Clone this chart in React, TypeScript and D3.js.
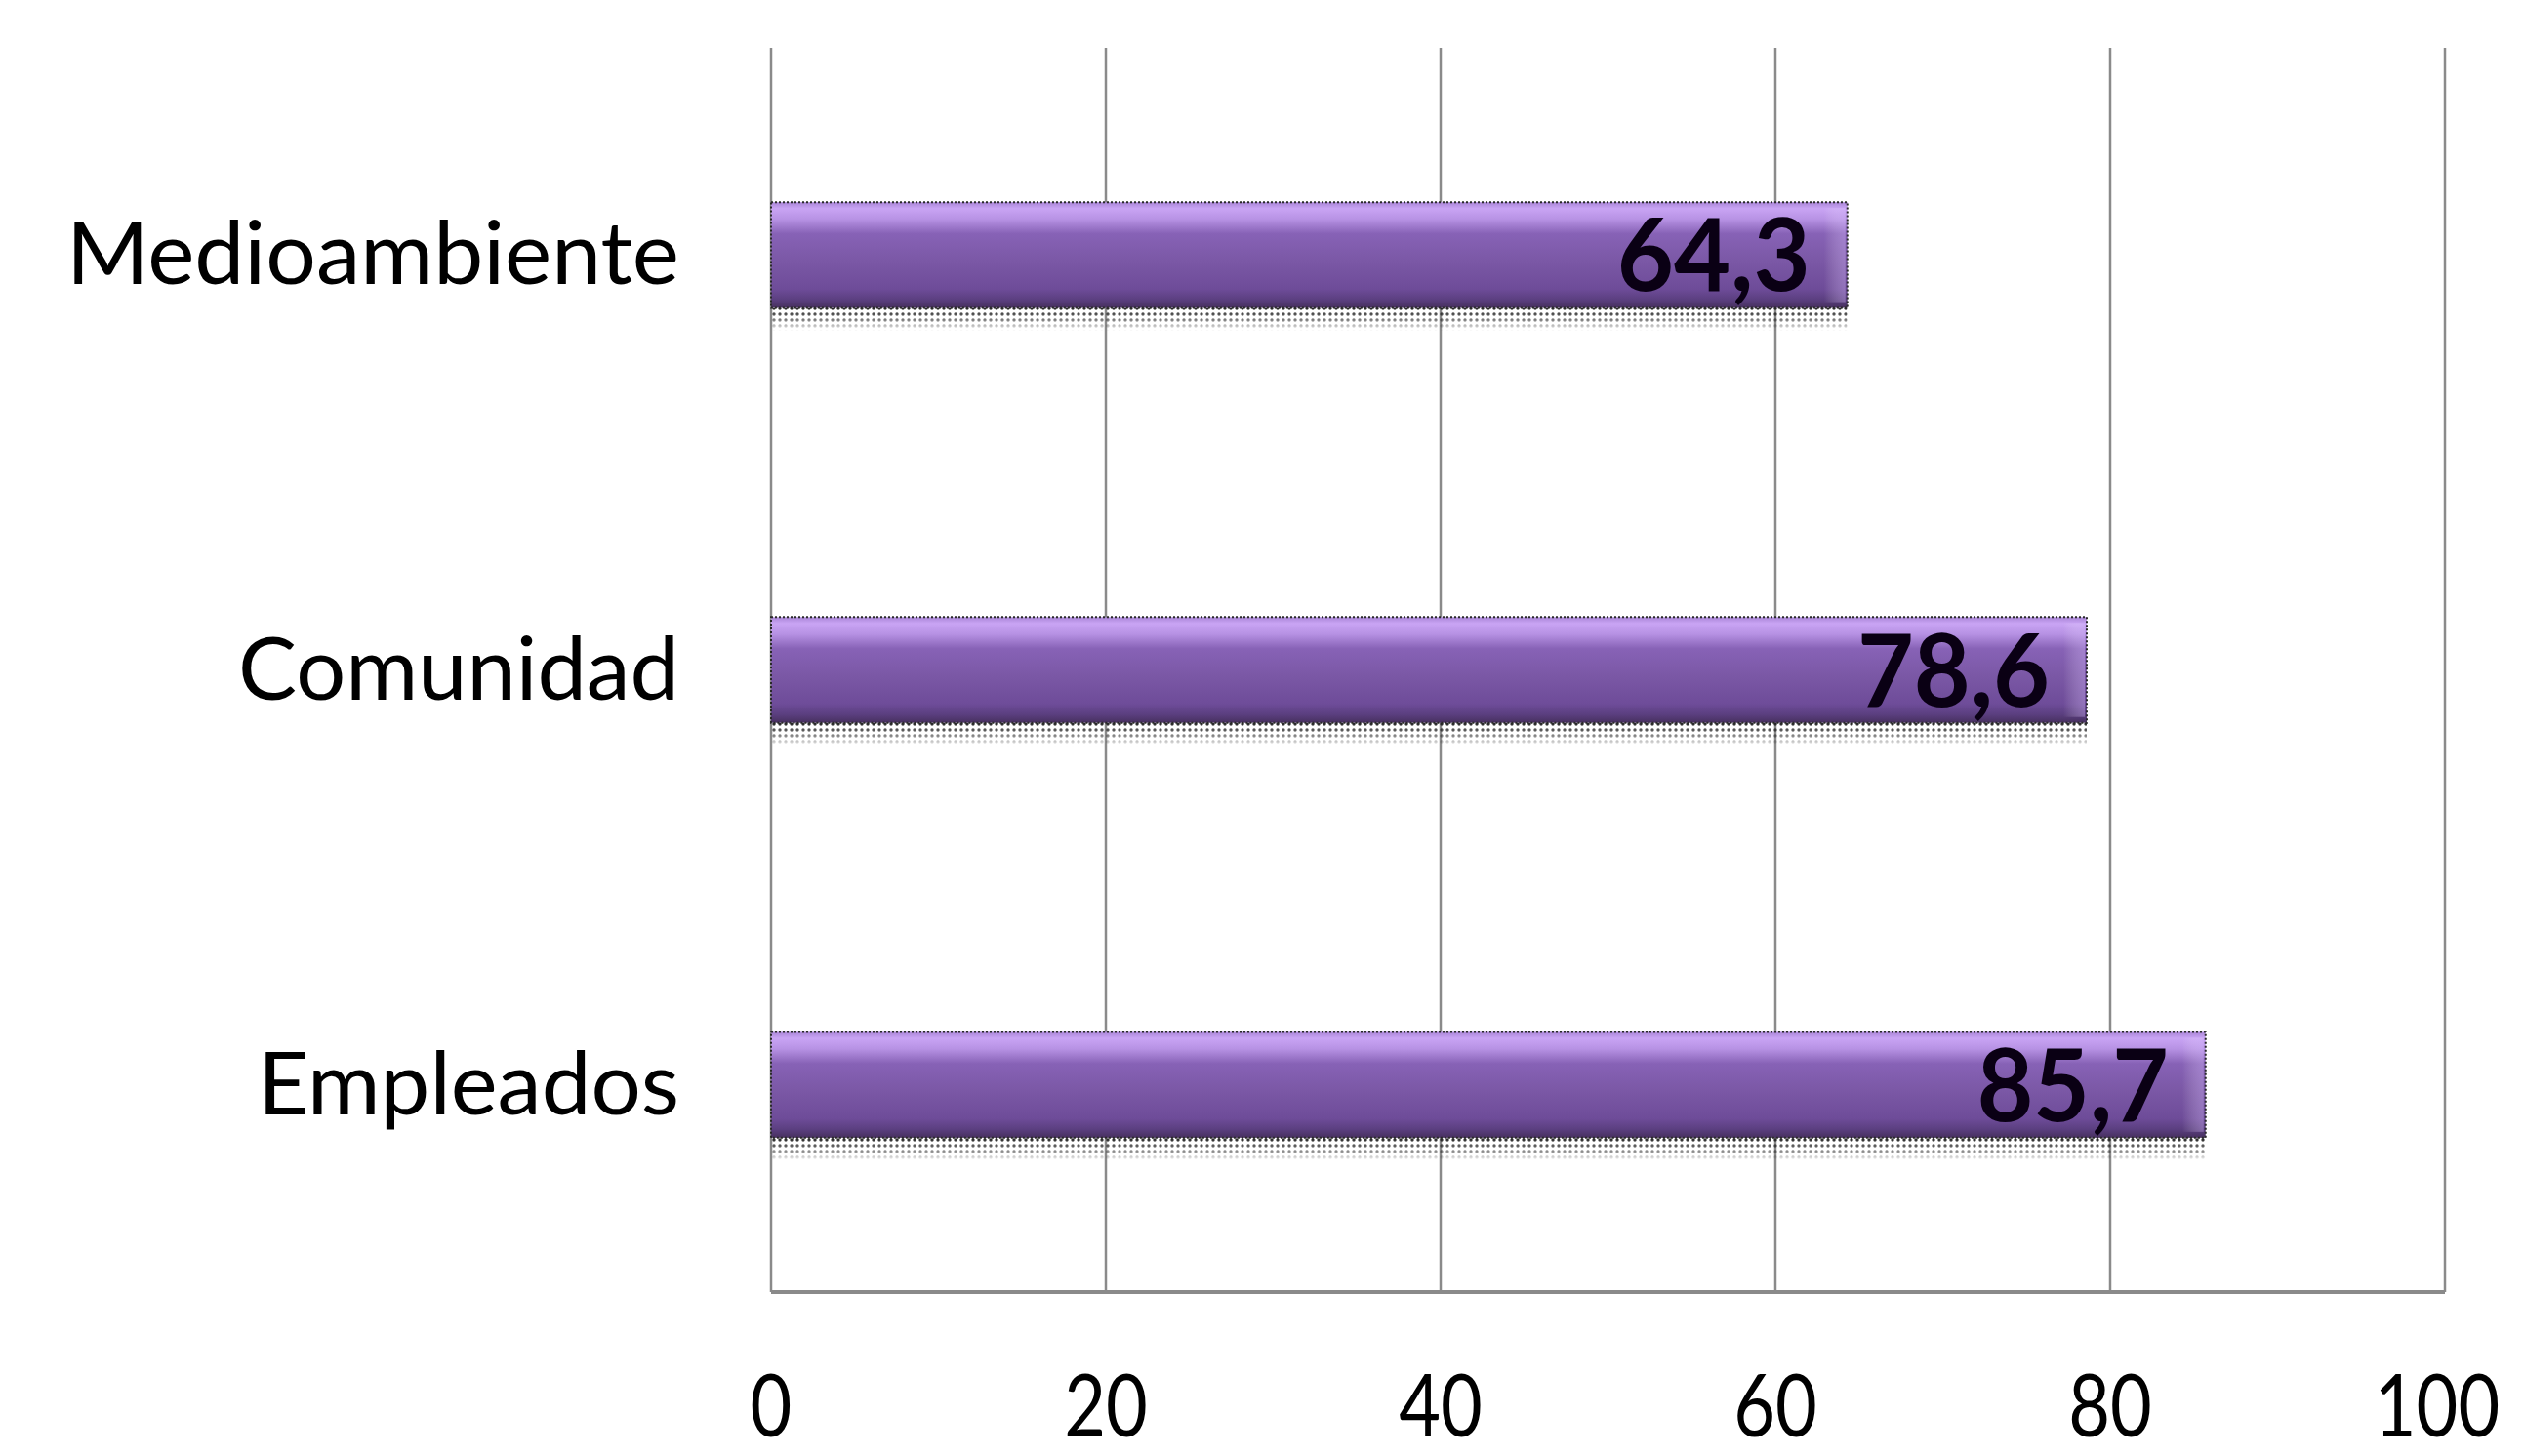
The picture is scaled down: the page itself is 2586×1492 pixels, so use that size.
import { type FC, useEffect, useRef } from 'react';
import * as d3 from 'd3';

// datos
const categories = ['Medioambiente', 'Comunidad', 'Empleados'];
const values = [64.3, 78.6, 85.7];
const valueLabels = ['64,3', '78,6', '85,7'];
const xTicks = [0, 20, 40, 60, 80, 100];

const width = 2586;
const height = 1492;
const margin = { top: 49, right: 81, bottom: 168, left: 790 };
const gridColor = '#8a8a8a';
const fontFamily = 'Lato, "Open Sans", "DejaVu Sans", sans-serif';

const App: FC = () => {
  const ref = useRef<SVGSVGElement>(null);

  useEffect(() => {
    document.body.style.margin = '0';
    const svgEl = ref.current;
    if (!svgEl) return;
    const svg = d3.select(svgEl);
    svg.selectAll('*').remove();

    const gW = width - margin.left - margin.right;
    const gH = height - margin.top - margin.bottom;

    const x = d3.scaleLinear().domain([0, 100]).range([0, gW]);
    const y = d3.scaleBand().domain(categories).range([0, gH]).paddingInner(0.745).paddingOuter(0.372);

    const defs = svg.append('defs');
    // degradado de la barra
    const grad = defs
      .append('linearGradient')
      .attr('id', 'barGrad')
      .attr('x1', 0)
      .attr('y1', 0)
      .attr('x2', 0)
      .attr('y2', 1);
    [
      [0, '#a985d6'],
      [0.06, '#c9a4f4'],
      [0.16, '#b792e4'],
      [0.3, '#8762b6'],
      [0.55, '#7b58a6'],
      [0.82, '#6e4c99'],
      [0.92, '#5b3f80'],
      [1, '#47305f'],
    ].forEach(([o, c]) => grad.append('stop').attr('offset', o as number).attr('stop-color', c as string));

    const endGrad = defs
      .append('linearGradient')
      .attr('id', 'endGrad')
      .attr('x1', 0)
      .attr('y1', 0)
      .attr('x2', 1)
      .attr('y2', 0);
    endGrad.append('stop').attr('offset', 0).attr('stop-color', '#ffffff').attr('stop-opacity', 0);
    endGrad.append('stop').attr('offset', 1).attr('stop-color', '#d9bcff').attr('stop-opacity', 0.35);

    // sombra punteada
    const pat = defs
      .append('pattern')
      .attr('id', 'dots')
      .attr('width', 6)
      .attr('height', 6)
      .attr('patternUnits', 'userSpaceOnUse');
    pat.append('circle').attr('cx', 3).attr('cy', 3).attr('r', 1.7).attr('fill', '#222');
    const shGrad = defs
      .append('linearGradient')
      .attr('id', 'shGrad')
      .attr('x1', 0)
      .attr('y1', 0)
      .attr('x2', 0)
      .attr('y2', 1);
    shGrad.append('stop').attr('offset', 0).attr('stop-color', '#fff').attr('stop-opacity', 1);
    shGrad.append('stop').attr('offset', 0.5).attr('stop-color', '#fff').attr('stop-opacity', 0.6);
    shGrad.append('stop').attr('offset', 1).attr('stop-color', '#fff').attr('stop-opacity', 0);
    const mask = defs.append('mask').attr('id', 'shMask').attr('maskContentUnits', 'objectBoundingBox');
    mask.append('rect').attr('width', 1).attr('height', 1).attr('fill', 'url(#shGrad)');

    const g = svg.append('g').attr('transform', `translate(${margin.left},${margin.top})`);

    // rejilla
    g.selectAll('.grid')
      .data(xTicks)
      .join('line')
      .attr('class', 'grid')
      .attr('x1', (d) => x(d))
      .attr('x2', (d) => x(d))
      .attr('y1', 0)
      .attr('y2', gH)
      .attr('stroke', gridColor)
      .attr('stroke-width', 2.5);
    g.append('line')
      .attr('x1', 0)
      .attr('x2', gW)
      .attr('y1', gH)
      .attr('y2', gH)
      .attr('stroke', gridColor)
      .attr('stroke-width', 4);

    // etiquetas del eje x (estrechadas para parecerse a Calibri)
    g.selectAll('.xt')
      .data(xTicks)
      .join('g')
      .attr('class', 'xt')
      .attr('transform', (d, i) => `translate(${x(d) - (i === xTicks.length - 1 ? 8 : 0)},${gH + 148}) scale(0.82,1)`)
      .append('text')
      .attr('text-anchor', 'middle')
      .attr('font-family', fontFamily)
      .attr('font-size', 90)
      .attr('fill', '#000')
      .text((d) => d);

    // etiquetas de categorías
    const catWidths = [628, 452, 432];
    g.selectAll('.cat')
      .data(categories)
      .join('text')
      .attr('class', 'cat')
      .attr('x', -94)
      .attr('y', (d) => y(d)! + y.bandwidth() / 2 + 30)
      .attr('text-anchor', 'end')
      .attr('font-family', fontFamily)
      .attr('font-size', 90)
      .attr('fill', '#000')
      .attr('textLength', (_, i) => catWidths[i])
      .attr('lengthAdjust', 'spacingAndGlyphs')
      .text((d) => d);

    const bars = g
      .selectAll('.bar')
      .data(categories)
      .join('g')
      .attr('class', 'bar');

    // sombra
    bars
      .append('rect')
      .attr('x', 0)
      .attr('y', (d) => y(d)! + y.bandwidth())
      .attr('width', (_, i) => x(values[i]))
      .attr('height', 24)
      .attr('fill', 'url(#dots)')
      .attr('mask', 'url(#shMask)');

    bars
      .append('rect')
      .attr('x', 0)
      .attr('y', (d) => y(d)!)
      .attr('width', (_, i) => x(values[i]))
      .attr('height', y.bandwidth())
      .attr('fill', 'url(#barGrad)')
      .attr('stroke', '#2a2a2a')
      .attr('stroke-width', 2)
      .attr('stroke-dasharray', '2 2');

    // bisel del extremo
    bars
      .append('rect')
      .attr('x', (_, i) => x(values[i]) - 24)
      .attr('y', (d) => y(d)! + 6)
      .attr('width', 22)
      .attr('height', y.bandwidth() - 12)
      .attr('fill', 'url(#endGrad)');

    // valores
    const valWidths = [198, 197, 196];
    bars
      .append('text')
      .attr('x', (_, i) => x(values[i]) - 38)
      .attr('y', (d) => y(d)! + y.bandwidth() / 2 + 37)
      .attr('text-anchor', 'end')
      .attr('font-family', fontFamily)
      .attr('font-weight', 'bold')
      .attr('font-size', 104)
      .attr('fill', '#0a0014')
      .attr('textLength', (_, i) => valWidths[i])
      .attr('lengthAdjust', 'spacingAndGlyphs')
      .text((_, i) => valueLabels[i]);
  }, []);

  return <svg ref={ref} width={width} height={height} style={{ display: 'block', background: '#fff' }} />;
};

export default App;
